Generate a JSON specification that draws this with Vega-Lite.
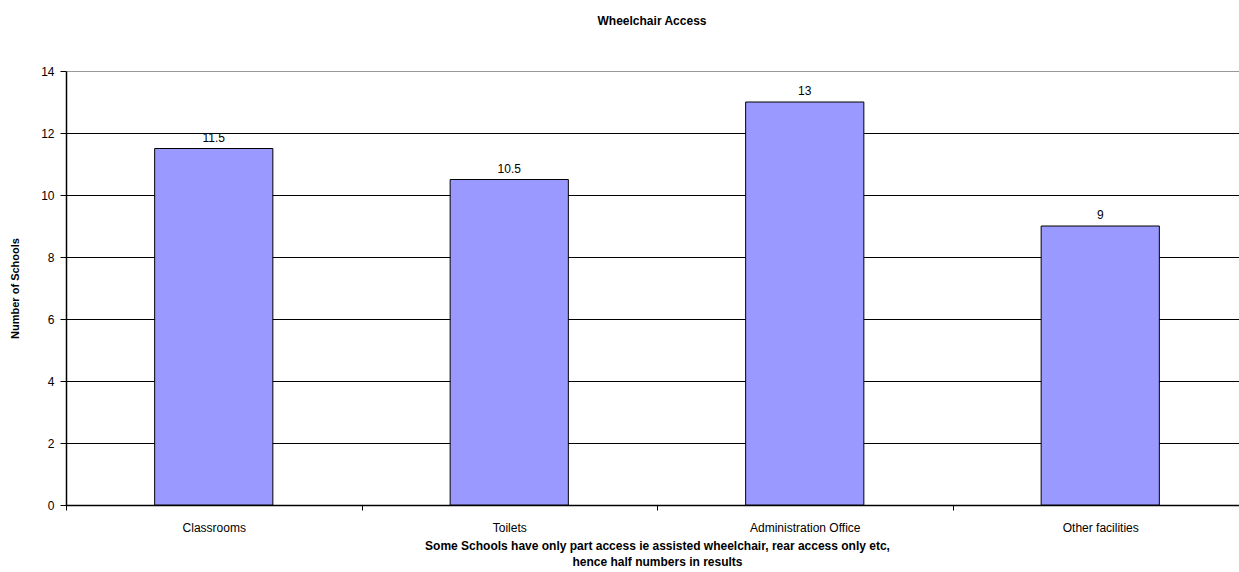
{
  "$schema": "https://vega.github.io/schema/vega-lite/v6.json",
  "width": 1182,
  "height": 434,
  "autosize": {"type": "none"},
  "padding": {"left": 66, "top": 71, "right": 0, "bottom": 67},
  "background": "white",
  "title": {
    "text": "Wheelchair Access",
    "font": "Liberation Sans",
    "fontSize": 12,
    "fontWeight": "bold",
    "color": "#000000",
    "anchor": "middle",
    "dx": -5,
    "offset": 37
  },
  "data": {
    "values": [
      {"facility": "Classrooms", "schools": 11.5},
      {"facility": "Toilets", "schools": 10.5},
      {"facility": "Administration Office", "schools": 13},
      {"facility": "Other facilities", "schools": 9}
    ]
  },
  "config": {
    "view": {"stroke": null},
    "axis": {
      "labelFont": "Liberation Sans",
      "titleFont": "Liberation Sans",
      "labelColor": "#000000",
      "titleColor": "#000000",
      "domainColor": "#000000",
      "tickColor": "#000000"
    }
  },
  "layer": [
    {
      "mark": {"type": "bar", "width": {"band": 0.4}, "fill": "#9999FF", "stroke": "#000000", "strokeWidth": 1},
      "encoding": {
        "x": {
          "field": "facility",
          "type": "nominal",
          "sort": null,
          "scale": {"paddingInner": 0, "paddingOuter": 0},
          "axis": {
            "title": ["Some Schools have only part access ie assisted wheelchair, rear access only etc,", "hence half numbers in results"],
            "titleFontSize": 12,
            "titleFontWeight": "bold",
            "titleLineHeight": 16,
            "titlePadding": 7,
            "titleX": 591,
            "titleAnchor": "middle",
            "labelAngle": 0,
            "labelFontSize": 12,
            "labelPadding": 12,
            "tickBand": "extent",
            "tickSize": 5,
            "domainWidth": 1.5,
            "grid": false
          }
        },
        "y": {
          "field": "schools",
          "type": "quantitative",
          "scale": {"domain": [0, 14]},
          "axis": {
            "title": "Number of Schools",
            "titleFontSize": 11,
            "titleFontWeight": "bold",
            "titlePadding": 20,
            "values": [0, 2, 4, 6, 8, 10, 12, 14],
            "labelFontSize": 12,
            "labelPadding": 6,
            "tickSize": 6,
            "domainWidth": 1.5,
            "grid": true,
            "gridColor": {"condition": {"test": "datum.value === 14", "value": "#999999"}, "value": "#000000"},
            "gridOpacity": 1,
            "gridWidth": 1
          }
        }
      }
    },
    {
      "mark": {"type": "text", "font": "Liberation Sans", "fontSize": 12, "color": "#000000", "baseline": "alphabetic", "dy": -7},
      "encoding": {
        "x": {"field": "facility", "type": "nominal", "sort": null},
        "y": {"field": "schools", "type": "quantitative"},
        "text": {"field": "schools", "type": "quantitative"}
      }
    }
  ]
}
